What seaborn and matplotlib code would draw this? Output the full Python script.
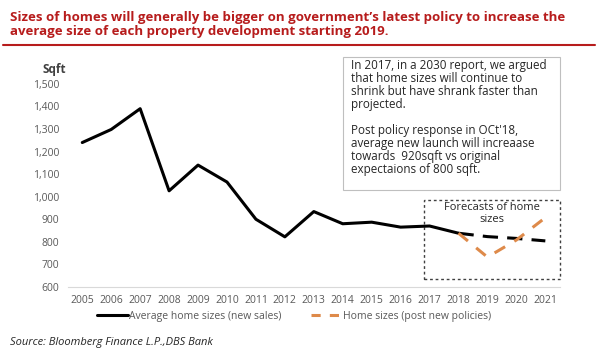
import matplotlib
matplotlib.use("Agg")
import matplotlib.pyplot as plt
import seaborn as sns
import pandas as pd
from matplotlib.patches import Rectangle
from matplotlib.lines import Line2D

# -----------------------------
# Data
# -----------------------------
years = [2005, 2006, 2007, 2008, 2009, 2010, 2011, 2012, 2013, 2014, 2015, 2016, 2017, 2018]
avg_sizes = [1240, 1298, 1390, 1026, 1140, 1065, 900, 822, 934, 880, 887, 865, 870, 838]

base_years = [2018, 2019, 2020, 2021]
base_forecast = [838, 823, 815, 804]

policy_years = [2018, 2019, 2020, 2021]
policy_forecast = [838, 732, 808, 907]

y_ticks = [600, 700, 800, 900, 1000, 1100, 1200, 1300, 1400, 1500]
x_ticks = list(range(2005, 2022))

df_hist = pd.DataFrame({"year": years, "size": avg_sizes})
df_base = pd.DataFrame({"year": base_years, "size": base_forecast})
df_pol = pd.DataFrame({"year": policy_years, "size": policy_forecast})

sns.set_style("white")
plt.rcParams["font.family"] = ["Open Sans", "DejaVu Sans"]

red = "#B71C1C"
orange = "#DE8A4A"
grey_txt = "#595959"

fig = plt.figure(figsize=(6, 3.6), dpi=100)
ax = fig.add_axes([0.113, 0.203, 0.82, 0.564])

sns.lineplot(data=df_hist, x="year", y="size", ax=ax, color="black", lw=2.2)
sns.lineplot(data=df_base, x="year", y="size", ax=ax, color="black", lw=2.2,
             linestyle=(0, (5, 3)))
sns.lineplot(data=df_pol, x="year", y="size", ax=ax, color=orange, lw=2.2,
             linestyle=(0, (4, 3.5)))

ax.set_xlim(2004.5, 2021.5)
ax.set_ylim(600, 1500)
ax.set_xticks(x_ticks)
ax.set_xticklabels([str(y) for y in x_ticks], fontsize=7.5, color=grey_txt)
ax.set_yticks(y_ticks)
ax.set_yticklabels([f"{v:,}" for v in y_ticks], fontsize=7.5, color=grey_txt)
ax.tick_params(length=0, pad=6)
ax.set_xlabel("")
ax.set_ylabel("")
for s in ["top", "right", "left"]:
    ax.spines[s].set_visible(False)
ax.spines["bottom"].set_color("#D9D9D9")

# Dotted forecast box
ax.add_patch(Rectangle((2016.8, 636), 4.7, 350, fill=False, ls=(0, (2, 2)),
                       lw=1, ec="#404040", clip_on=False))
ax.text(2019.15, 977, "Forecasts of home\nsizes", ha="center", va="top",
        fontsize=8, color="#262626", linespacing=1.2)

# Commentary box
fig.patches.append(Rectangle((343 / 600, 1 - 190 / 360), 217 / 600, 133 / 360,
                             transform=fig.transFigure, fill=True, fc="white",
                             ec="#BFBFBF", lw=0.8))
fig.text(351 / 600, 1 - 59 / 360,
         "In 2017, in a 2030 report, we argued\nthat home sizes will continue to\n"
         "shrink but have shrank faster than\nprojected.\n\n"
         "Post policy response in OCt'18,\naverage new launch will increaase\n"
         "towards  920sqft vs original\nexpectaions of 800 sqft.",
         ha="left", va="top", fontsize=8.4, color="#262626", linespacing=1.0)

# Title
fig.text(10 / 600, 1 - 11 / 360,
         "Sizes of homes will generally be bigger on government\u2019s latest policy to increase the\n"
         "average size of each property development starting 2019.",
         ha="left", va="top", fontsize=9.5, fontweight="bold", color=red, linespacing=1.05)
fig.add_artist(Line2D([3 / 600, 595 / 600], [1 - 45 / 360] * 2, color=red, lw=1.5,
                      transform=fig.transFigure))

fig.text(42 / 600, 1 - 70 / 360, "Sqft", fontsize=8.5, fontweight="bold",
         color="#404040", ha="left", va="center")

# Legend
handles = [Line2D([], [], color="black", lw=2.2),
           Line2D([], [], color=orange, lw=2.2, ls=(0, (3, 3)))]
fig.legend(handles, ["Average home sizes (new sales)", "Home sizes (post new policies)"],
           loc="center", bbox_to_anchor=(0.49, 1 - 316 / 360), ncol=2, frameon=False,
           fontsize=7.5, handlelength=3, handletextpad=0.1, columnspacing=2.8,
           labelcolor=grey_txt)

fig.text(10 / 600, 1 - 342 / 360, "Source: Bloomberg Finance L.P.,DBS Bank",
         fontsize=8, style="italic", color="#262626", ha="left", va="center")

fig.savefig("out.png", dpi=100)
